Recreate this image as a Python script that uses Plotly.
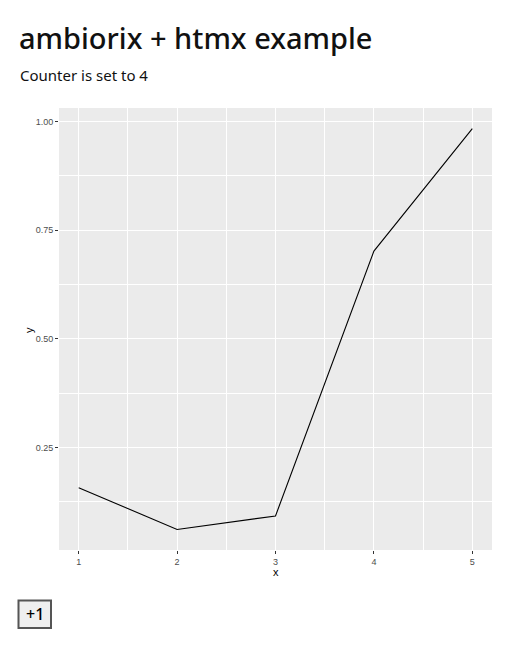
import plotly.graph_objects as go

# data
x_vals = [1, 2, 3, 4, 5]
y_vals = [0.157, 0.061, 0.092, 0.702, 0.984]
y_ticks = [0.25, 0.50, 0.75, 1.00]
x_ticks = [1, 2, 3, 4, 5]

page_title = "ambiorix + htmx example"
counter_text = "Counter is set to 4"
button_text = "+1"

# figure sits inside the 8px body margin of the page
W, H = 500, 654
M = dict(l=51, r=16, t=100, b=112)
pw = W - M['l'] - M['r']
ph = H - M['t'] - M['b']


def paper(px, py):
    # page pixel -> paper coords
    fx, fy = px - 8, py - 8
    return (fx - M['l']) / pw, (H - M['b'] - fy) / ph


fig = go.Figure(
    data=go.Scatter(x=x_vals, y=y_vals, mode='lines',
                    line=dict(color='black', width=1.1),
                    hoverinfo='x+y', showlegend=False),
)

tx, ty = paper(17, 38)
cx, cy = paper(18, 75)
yx, yy = paper(29, 330)
xx, xy = paper(276, 572)
bx0, by0 = paper(18.5, 600.5)
bx1, by1 = paper(51, 628)
btx, bty = paper(35, 614)

page_font = 'Noto Sans, Open Sans, sans-serif'

fig.update_layout(
    width=W, height=H,
    margin=dict(l=M['l'], r=M['r'], t=M['t'], b=M['b'], pad=0),
    paper_bgcolor='white',
    plot_bgcolor='#ebebeb',
    font=dict(family='Liberation Sans, Arial, sans-serif', color='#4d4d4d'),
    xaxis=dict(
        range=[0.8, 5.2], tickvals=x_ticks, ticktext=[str(v) for v in x_ticks],
        showgrid=True, gridcolor='white', gridwidth=1.4, zeroline=False,
        ticks='outside', ticklen=3, tickcolor='#333333', tickwidth=1,
        tickfont=dict(size=9, color='#4d4d4d'),
        minor=dict(dtick=0.5, tick0=0.5, showgrid=True, gridcolor='white', gridwidth=0.6, ticks=''),
        showline=False, fixedrange=True,
    ),
    yaxis=dict(
        range=[0.0136, 1.0315], tickvals=y_ticks, tickformat='.2f',
        showgrid=True, gridcolor='white', gridwidth=1.4, zeroline=False,
        ticks='outside', ticklen=3, tickcolor='#333333', tickwidth=1,
        tickfont=dict(size=9, color='#4d4d4d'),
        minor=dict(dtick=0.125, tick0=0, showgrid=True, gridcolor='white', gridwidth=0.6, ticks=''),
        showline=False, fixedrange=True,
    ),
    annotations=[
        dict(text=page_title, x=tx, y=ty, xref='paper', yref='paper',
             xanchor='left', yanchor='middle', showarrow=False,
             font=dict(family=page_font, size=29, weight=500, color='#111111')),
        dict(text=counter_text, x=cx, y=cy, xref='paper', yref='paper',
             xanchor='left', yanchor='middle', showarrow=False,
             font=dict(family=page_font, size=15, color='#111111')),
        dict(text='y', x=yx, y=yy, xref='paper', yref='paper', textangle=-90,
             xanchor='center', yanchor='middle', showarrow=False,
             font=dict(size=11, color='black')),
        dict(text='x', x=xx, y=xy, xref='paper', yref='paper',
             xanchor='center', yanchor='middle', showarrow=False,
             font=dict(size=11, color='black')),
        dict(text=button_text, x=btx, y=bty, xref='paper', yref='paper',
             xanchor='center', yanchor='middle', showarrow=False,
             font=dict(family=page_font, size=16, weight=500, color='black')),
    ],
    shapes=[
        dict(type='rect', xref='paper', yref='paper', x0=bx0, y0=by0, x1=bx1, y1=by1,
             fillcolor='#efefef', line=dict(color='#555555', width=2), layer='above'),
    ],
)

fig.write_html("out.html")
